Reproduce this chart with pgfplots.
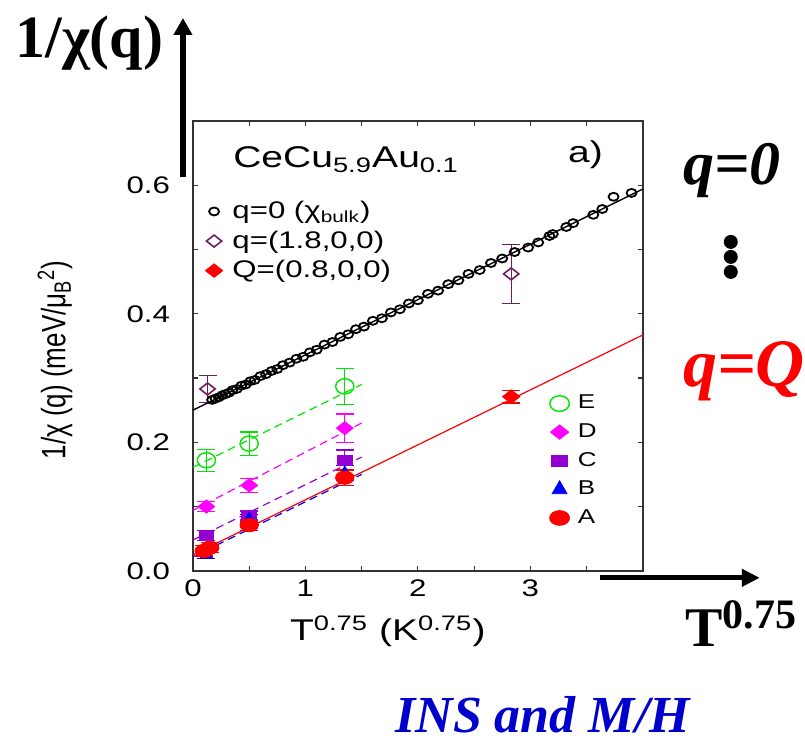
\documentclass[border=0pt]{standalone}
\usepackage{fontspec}
\setmainfont{Liberation Sans}
\newfontfamily\tnr{Liberation Serif}
\usepackage{graphicx}
\usepackage{pgfplots}
\pgfplotsset{compat=1.18}
\usetikzlibrary{arrows.meta}
\newcommand{\sx}[1]{\scalebox{1.3}[1]{#1}}
\definecolor{qgreen}{RGB}{0,230,0}
\definecolor{qmag}{RGB}{255,0,255}
\definecolor{qpurp}{RGB}{148,0,211}
\definecolor{qdia}{RGB}{110,30,95}
\definecolor{insblue}{RGB}{0,0,204}
\pgfplotsset{
  smallleg/.style={legend image code/.code={%
    \path[draw=none, fill=none] (0cm,0cm) -- (0.54cm,0cm);
    \draw[mark repeat=2,mark phase=2,##1] plot coordinates {(0cm,0cm) (0.27cm,0cm) (0.54cm,0cm)};}},
  ebars/.style={error bars/.cd, y dir=both, y explicit,
    error bar style={line width=0.6pt, #1},
    error mark options={rotate=90, mark size=4.5pt, line width=0.6pt, #1}},
}
\begin{document}
\begin{tikzpicture}[x=0.5pt,y=0.5pt]
\path (0,0) rectangle (805,743);
\begin{axis}[
  at={(96.5pt,86pt)}, anchor=south west,
  scale only axis, width=225pt, height=225pt,
  xmin=0, xmax=4, ymin=0, ymax=0.7,
  xtick={0,1,2,3,4}, xticklabels={\sx{0},\sx{1},\sx{2},\sx{3},},
  minor x tick num=1,
  ytick={0,0.2,0.4,0.6}, yticklabels={\sx{0.0},\sx{0.2},\sx{0.4},\sx{0.6}},
  minor y tick num=1,
  tick align=inside, major tick length=2.6pt, minor tick length=2.6pt,
  axis line style={line width=0.7pt, black!80},
  every tick/.style={line width=0.6pt, black!80},
  tick label style={font=\fontsize{12}{14}\selectfont},
  yticklabel shift=8pt, xticklabel shift=1pt,
  clip=false,
  legend style={at={(0.012,0.829)}, anchor=north west, draw=none, fill=none,
    font=\fontsize{12}{14}\selectfont, row sep=1.6pt, inner sep=0pt,
    nodes={inner sep=1.5pt}},
  legend cell align=left,
]
% fit lines
\addplot[black, line width=0.7pt, forget plot] coordinates {(0,0.25) (4,0.594)};
\addplot[red, line width=0.6pt, forget plot] coordinates {(0,0.025) (4,0.367)};
\addplot[qgreen, line width=0.6pt, dash pattern=on 4pt off 2.5pt, forget plot] coordinates {(0,0.161) (1.5,0.290)};
\addplot[qmag, line width=0.6pt, dash pattern=on 4pt off 2.5pt, forget plot] coordinates {(0,0.094) (1.5,0.230)};
\addplot[qpurp, line width=0.6pt, dash pattern=on 4pt off 2.5pt, forget plot] coordinates {(0,0.048) (1.5,0.177)};
\addplot[blue, line width=0.6pt, dash pattern=on 4pt off 2.5pt, forget plot] coordinates {(0,0.022) (1.5,0.150)};
% q=0 bulk
\addplot[only marks, smallleg, mark=o, black, mark size=2pt, mark options={xscale=1.25, line width=0.9pt}]
  coordinates {(0.17,0.266)(0.20,0.268)(0.23,0.270)(0.26,0.273)(0.29,0.275)(0.32,0.277)
  (0.35,0.281)(0.39,0.283)(0.43,0.288)(0.47,0.290)(0.51,0.295)(0.55,0.297)(0.60,0.303)
  (0.65,0.306)(0.70,0.311)(0.75,0.314)(0.80,0.320)(0.86,0.324)(0.92,0.330)(0.98,0.333)
  (1.04,0.340)(1.10,0.344)(1.17,0.352)(1.24,0.356)(1.31,0.364)(1.38,0.368)(1.45,0.376)
  (1.52,0.380)(1.60,0.389)(1.68,0.393)(1.76,0.402)(1.84,0.407)(1.92,0.416)(2.00,0.421)
  (2.09,0.431)(2.18,0.436)(2.27,0.446)(2.36,0.452)(2.45,0.462)(2.55,0.468)(2.65,0.479)
  (2.75,0.486)(2.86,0.496)(2.98,0.503)(3.07,0.511)(3.17,0.521)(3.20,0.524)(3.32,0.535)
  (3.38,0.541)(3.56,0.554)(3.64,0.563)(3.74,0.582)(3.90,0.588)};
\addlegendentry{\sx{q=0 (χ\textsubscript{bulk})}}
% q=(1.8,0,0)
\addplot[only marks, smallleg, mark=diamond, qdia, mark size=3pt, mark options={xscale=1.7, line width=0.8pt}, ebars=qdia]
  coordinates {(0.13,0.283) +- (0,0.021) (2.83,0.462) +- (0,0.046)};
\addlegendentry{\sx{q=(1.8,0,0)}}
% Q=(0.8,0,0)
\addplot[only marks, smallleg, mark=diamond*, red, mark size=3.4pt, mark options={xscale=1.7}, ebars=red]
  coordinates {(2.83,0.271) +- (0,0.010)};
\addlegendentry{\sx{Q=(0.8,0,0)}}
% E
\addplot[only marks, forget plot, mark=o, qgreen, mark size=3.8pt, mark options={xscale=1.2, line width=0.7pt}, ebars=qgreen]
  coordinates {(0.12,0.172) +- (0,0.017) (0.50,0.198) +- (0,0.018) (1.35,0.287) +- (0,0.028)};
% D
\addplot[only marks, forget plot, mark=diamond*, qmag, mark size=3.3pt, mark options={xscale=1.7}, ebars=qmag]
  coordinates {(0.12,0.100) +- (0,0.008) (0.50,0.133) +- (0,0.011) (1.35,0.222) +- (0,0.022)};
% C
\addplot[only marks, forget plot, mark=square*, qpurp, mark size=2.6pt, mark options={xscale=1.4}, ebars=qpurp]
  coordinates {(0.12,0.055) +- (0,0.008) (0.50,0.085) +- (0,0.008) (1.35,0.172) +- (0,0.016)};
% B
\addplot[only marks, forget plot, mark=triangle*, blue, mark size=3.6pt, ebars=blue]
  coordinates {(0.12,0.025) +- (0,0.006) (0.50,0.080) +- (0,0.008) (1.35,0.152) +- (0,0.012)};
% A
\addplot[only marks, forget plot, mark=*, red, mark size=3.3pt, mark options={xscale=1.4}, ebars=red]
  coordinates {(0.10,0.031) +- (0,0.008) (0.15,0.036) +- (0,0.008) (0.50,0.071) +- (0,0.008) (1.35,0.145) +- (0,0.012)};
\end{axis}
% second legend (E..A)
\begin{axis}[
  at={(96.5pt,86pt)}, anchor=south west,
  scale only axis, width=225pt, height=225pt,
  xmin=0, xmax=4, ymin=0, ymax=0.7, hide axis,
  legend style={at={(0.78,0.398)}, anchor=north west, draw=none, fill=none,
    font=\fontsize{10}{12}\selectfont, row sep=2.9pt, inner sep=0pt,
    nodes={inner sep=1.5pt}},
  legend cell align=left,
]
\addlegendimage{only marks, smallleg, mark=o, qgreen, mark size=3.9pt, mark options={xscale=1.25, line width=0.7pt}}
\addlegendentry{\sx{E}}
\addlegendimage{only marks, smallleg, mark=diamond*, qmag, mark size=3.6pt, mark options={xscale=1.7}}
\addlegendentry{\sx{D}}
\addlegendimage{only marks, smallleg, mark=square*, qpurp, mark size=2.9pt, mark options={xscale=1.4}}
\addlegendentry{\sx{C}}
\addlegendimage{only marks, smallleg, mark=triangle*, blue, mark size=4.3pt}
\addlegendentry{\sx{B}}
\addlegendimage{only marks, smallleg, mark=*, red, mark size=3.7pt, mark options={xscale=1.35}}
\addlegendentry{\sx{A}}
\end{axis}
% texts inside the panel
\node[anchor=base west, inner sep=0pt, font=\fontsize{15}{18}\selectfont] at (233,575) {\sx{CeCu\textsubscript{5.9}Au\textsubscript{0.1}}};
\node[anchor=base west, inner sep=0pt, font=\fontsize{15}{18}\selectfont] at (568,580) {\sx{a)}};
\node[anchor=base, inner sep=0pt, font=\fontsize{15}{18}\selectfont] at (388,102) {\sx{T\textsuperscript{0.75} (K\textsuperscript{0.75})}};
\node[rotate=90, inner sep=0pt, font=\fontsize{13}{15}\selectfont] at (55,383) {\scalebox{1}[1.3]{1/χ (q) (meV/μ\textsubscript{B}\textsuperscript{2})}};
% annotations around the panel
\node[anchor=base west, inner sep=0pt, font=\tnr\bfseries\fontsize{30}{32}\selectfont] at (15,685) {1/χ(q)};
\draw[line width=3pt, -{Triangle[length=8.5pt,width=9pt]}] (183,566) -- (183,725);
\draw[line width=2.5pt, -{Triangle[length=9pt,width=8.5pt]}] (600,165) -- (760,165);
\node[anchor=base west, inner sep=0pt, font=\tnr\bfseries\itshape\fontsize{31}{34}\selectfont] at (683,558) {q=0};
\fill (731,501) circle (3.5pt);
\fill (731,486) circle (3.5pt);
\fill (731,471) circle (3.5pt);
\node[anchor=base west, inner sep=0pt, red, font=\tnr\bfseries\itshape\fontsize{34}{38}\selectfont] at (683,356) {q=Q};
\node[anchor=base west, inner sep=0pt, font=\tnr\bfseries\fontsize{28}{30}\selectfont] at (685,96) {T\raisebox{9pt}{\fontsize{21}{22}\selectfont 0.75}};
\node[anchor=base west, inner sep=0pt, insblue, font=\tnr\bfseries\itshape\fontsize{26}{28}\selectfont] at (395,10) {INS and M/H};
\end{tikzpicture}
\end{document}
